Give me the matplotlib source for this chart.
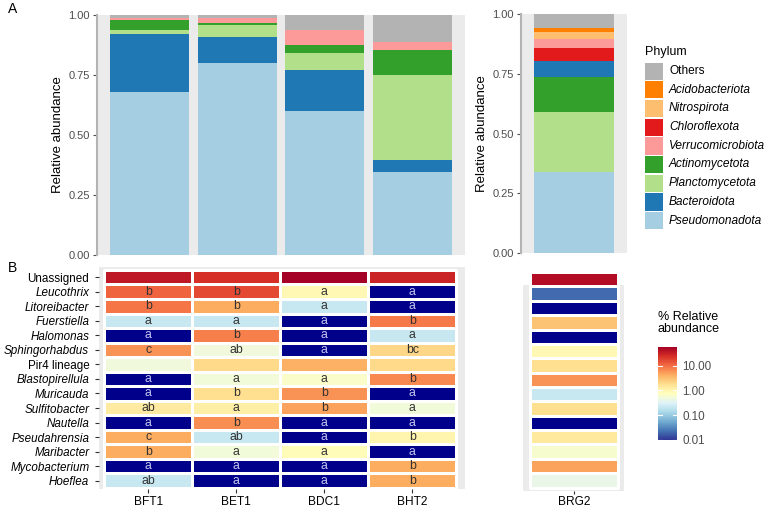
import numpy as np
import matplotlib.pyplot as plt
from matplotlib.colors import LogNorm
from matplotlib.patches import Rectangle

plt.rcParams['font.family'] = ['Liberation Sans', 'DejaVu Sans']

# ---- data: panel A (relative abundance per phylum) ----
samples_left = ['BFT1', 'BET1', 'BDC1', 'BHT2']
sample_right = ['BRG2']

phyla = ['Pseudomonadota', 'Bacteroidota', 'Planctomycetota', 'Actinomycetota',
         'Verrucomicrobiota', 'Chloroflexota', 'Nitrospirota', 'Acidobacteriota', 'Others']
phyla_colors = {'Pseudomonadota': '#a6cee3', 'Bacteroidota': '#1f78b4',
                'Planctomycetota': '#b2df8a', 'Actinomycetota': '#33a02c',
                'Verrucomicrobiota': '#fb9a99', 'Chloroflexota': '#e31a1c',
                'Nitrospirota': '#fdbf6f', 'Acidobacteriota': '#ff7f00',
                'Others': '#b3b3b3'}

pseudo = [0.680, 0.799, 0.602, 0.345]
bacter = [0.241, 0.108, 0.169, 0.050]
plancto = [0.018, 0.050, 0.072, 0.354]
actino = [0.040, 0.010, 0.031, 0.104]
verruco = [0.007, 0.019, 0.064, 0.035]
others = [0.014, 0.014, 0.062, 0.112]

brg2_order = ['Pseudomonadota', 'Planctomycetota', 'Actinomycetota', 'Bacteroidota',
              'Chloroflexota', 'Verrucomicrobiota', 'Nitrospirota', 'Acidobacteriota', 'Others']
brg2_vals = [0.341, 0.251, 0.145, 0.068, 0.053, 0.036, 0.029, 0.020, 0.057]

# ---- data: panel B (% relative abundance per genus, nan = not detected) ----
genera = ['Unassigned', 'Leucothrix', 'Litoreibacter', 'Fuerstiella', 'Halomonas',
          'Sphingorhabdus', 'Pir4 lineage', 'Blastopirellula', 'Muricauda',
          'Sulfitobacter', 'Nautella', 'Pseudahrensia', 'Maribacter',
          'Mycobacterium', 'Hoeflea']
nan = np.nan
bft1 = [37, 11.5, 9, 0.21, nan, 6, 0.49, nan, nan, 1.3, nan, 4.3, 4.3, nan, 0.21]
bet1 = [24, 17, 4.3, 0.21, 8, 0.49, 2.0, 0.5, 1.8, 1.2, 6.5, 0.21, 0.5, nan, nan]
bdc1 = [57, 0.9, 0.21, nan, nan, nan, 4.0, 0.65, 6, 5, nan, nan, 0.85, nan, nan]
bht2 = [30, nan, nan, 8.5, 0.21, 2.1, 2.0, 7, nan, 0.5, nan, 1.0, nan, 4.3, 4.3]
brg2 = [45, 0.02, nan, 3, nan, 0.9, 1.8, 6, 0.21, 1.8, nan, 1.4, 0.6, 5, 0.4]

let_bft1 = ['', 'b', 'b', 'a', 'a', 'c', '', 'a', 'a', 'ab', 'a', 'c', 'b', 'a', 'ab']
let_bet1 = ['', 'b', 'b', 'a', 'b', 'ab', '', 'a', 'b', 'a', 'b', 'ab', 'a', 'a', 'a']
let_bdc1 = ['', 'a', 'a', 'a', 'a', 'a', '', 'a', 'b', 'b', 'a', 'a', 'a', 'a', 'a']
let_bht2 = ['', 'a', 'a', 'b', 'a', 'bc', '', 'b', 'a', 'a', 'a', 'b', 'a', 'b', 'b']

# ---- figure ----
W, H = 767, 512
fig = plt.figure(figsize=(W / 100, H / 100), dpi=100)
PANEL = '#ebebeb'
NAVY = '#00008b'


def box(x0, y0, x1, y1):
    return fig.add_axes([x0 / W, 1 - y1 / H, (x1 - x0) / W, (y1 - y0) / H])


def style_bar_axes(ax):
    ax.set_facecolor(PANEL)
    for s in ['top', 'right', 'bottom']:
        ax.spines[s].set_visible(False)
    ax.spines['left'].set_color('#b3b3b3')
    ax.spines['left'].set_linewidth(1.5)
    ax.set_ylim(0, 1)
    ax.set_yticks([0, 0.25, 0.5, 0.75, 1.0])
    ax.set_yticklabels(['0.00', '0.25', '0.50', '0.75', '1.00'])
    ax.tick_params(axis='y', labelsize=8, colors='#4d4d4d', length=3, width=0.8, pad=2)
    ax.tick_params(axis='x', length=0, labelbottom=False)
    ax.set_ylabel('Relative abundance', fontsize=9.5, labelpad=3)


# A left: stacked bars
ax1 = box(97, 15, 465, 255)
style_bar_axes(ax1)
xl = np.arange(len(samples_left))
left_series = [('Pseudomonadota', pseudo), ('Bacteroidota', bacter),
               ('Planctomycetota', plancto), ('Actinomycetota', actino),
               ('Verrucomicrobiota', verruco), ('Others', others)]
bottom = np.zeros(len(samples_left))
for name, vals in left_series:
    ax1.bar(xl, vals, 0.9, bottom=bottom, color=phyla_colors[name], linewidth=0)
    bottom += np.array(vals)
ax1.set_xlim(-0.6, len(samples_left) - 0.4)

# A right: BRG2
ax2 = box(521, 14, 627, 253)
style_bar_axes(ax2)
b = 0.0
for name, v in zip(brg2_order, brg2_vals):
    ax2.bar([0], [v], 0.9, bottom=b, color=phyla_colors[name], linewidth=0)
    b += v
ax2.set_xlim(-0.6, 0.6)

# legend
fig.text(645 / W, 1 - 52 / H, 'Phylum', fontsize=9, va='center', ha='left')
leg_order = ['Others', 'Acidobacteriota', 'Nitrospirota', 'Chloroflexota',
             'Verrucomicrobiota', 'Actinomycetota', 'Planctomycetota',
             'Bacteroidota', 'Pseudomonadota']
for i, name in enumerate(leg_order):
    y0 = 62 + i * 18.7
    fig.patches.append(Rectangle((645 / W, 1 - (y0 + 17.7) / H), 17.5 / W, 17.2 / H,
                                 transform=fig.transFigure, color=phyla_colors[name],
                                 linewidth=0))
    fig.text(669 / W, 1 - (y0 + 9) / H, name, fontsize=8.6, va='center', ha='left',
             style='normal' if name == 'Others' else 'italic')

# B: heatmaps
cmap = plt.get_cmap('RdYlBu_r').copy()
cmap.set_bad(NAVY)
norm = LogNorm(vmin=0.0097, vmax=58)
nrow = len(genera)


def draw_heat(ax, cols, letters):
    data = np.ma.masked_invalid(np.array(cols, dtype=float).T)
    xe = np.arange(data.shape[1] + 1) - 0.5
    ye = np.arange(nrow + 1) - 0.5
    m = ax.pcolormesh(xe, ye, data, cmap=cmap, norm=norm,
                      edgecolors='white', linewidth=0.9)
    m.set_clip_on(False)
    for j, lets in enumerate(letters):
        for i, t in enumerate(lets):
            if t:
                c = '#c8c8f0' if np.isnan(cols[j][i]) else '#333333'
                ax.text(j, i, t, ha='center', va='center', fontsize=8.8, color=c)
    ax.set_facecolor(PANEL)
    for s in ax.spines.values():
        s.set_visible(False)


ax3 = box(99, 267, 465, 489)
draw_heat(ax3, [bft1, bet1, bdc1, bht2], [let_bft1, let_bet1, let_bdc1, let_bht2])
ax3.set_xlim(-0.56, 3.6)
ax3.set_ylim(nrow - 0.43, -0.7)
ax3.set_xticks(range(len(samples_left)))
ax3.set_xticklabels(samples_left, fontsize=8.6)
ax3.set_yticks(range(nrow))
ax3.set_yticklabels(genera, fontsize=8.4)
for lab in ax3.get_yticklabels():
    if lab.get_text() not in ('Unassigned', 'Pir4 lineage'):
        lab.set_style('italic')
ax3.tick_params(axis='y', length=3, width=0.8, color='#333333', pad=4)
ax3.tick_params(axis='x', length=3, width=0.8, color='#333333', pad=2)

ax4 = box(523, 285, 624, 491)
draw_heat(ax4, [brg2], [['' for g in genera]])
ax4.set_xlim(-0.58, 0.57)
ax4.set_ylim(14.74, 0.40)
ax4.set_xticks([0])
ax4.set_xticklabels(sample_right, fontsize=8.6)
ax4.set_yticks([])
ax4.tick_params(length=2.5, width=0.8, color='#333333', pad=1)

# colour bar
cax = box(658, 347, 677, 440)
grad = np.logspace(np.log10(0.0097), np.log10(58), 256).reshape(-1, 1)
cax.pcolormesh([0, 1], np.logspace(np.log10(0.0097), np.log10(58), 257), grad,
               cmap=cmap, norm=norm)
cax.set_yscale('log')
cax.set_ylim(0.0097, 58)
cax.set_xlim(0, 1)
cax.set_xticks([])
for s in cax.spines.values():
    s.set_visible(False)
ticks = [0.01, 0.1, 1, 10]
cax.set_yticks(ticks)
cax.set_yticklabels(['0.01', '0.10', '1.00', '10.00'])
cax.yaxis.tick_right()
cax.minorticks_off()
cax.tick_params(axis='y', length=0, labelsize=8.4, colors='#4d4d4d', pad=4)
for t in ticks:
    cax.plot([0, 0.2], [t, t], color='white', lw=0.8)
    cax.plot([0.8, 1], [t, t], color='white', lw=0.8)
fig.text(658 / W, 1 - 323 / H, '% Relative\nabundance', fontsize=9, ha='left', va='center',
         linespacing=1.0)

fig.text(8 / W, 1 - 9 / H, 'A', fontsize=10, ha='left', va='center')
fig.text(8 / W, 1 - 268 / H, 'B', fontsize=10, ha='left', va='center')

fig.savefig('out.png', dpi=100)
